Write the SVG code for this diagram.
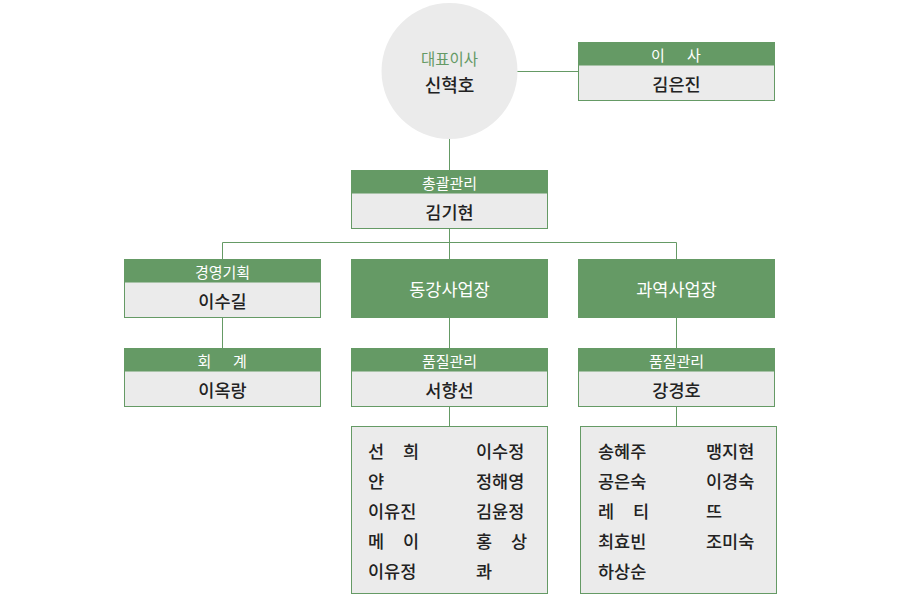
<svg xmlns="http://www.w3.org/2000/svg" width="900" height="609" viewBox="0 0 900 609">
<style>
text{font-family:"Noto Sans CJK KR","Noto Sans",sans-serif;dominant-baseline:central;}
.hd{fill:#659a65;}
.bx{fill:#ebebeb;stroke:#659a65;stroke-width:1;}
.ht{fill:#ffffff;font-size:15px;text-anchor:middle;}
.nt{fill:#222222;font-size:17.5px;font-weight:500;text-anchor:middle;}
.lt{fill:#222222;font-size:17.5px;font-weight:500;}
.ln{stroke:#659a65;stroke-width:1;fill:none;}
</style>
<rect width="900" height="609" fill="#ffffff"/>
<g id="connectors">
<path class="ln" d="M517 71.5H578.5"/>
<path class="ln" d="M449.5 139V170.5"/>
<path class="ln" d="M449.5 228.5V259.5"/>
<path class="ln" d="M222.5 259.5V242.5H676.5V259.5"/>
<path class="ln" d="M222.5 317.5V348.5"/>
<path class="ln" d="M449.5 317.5V348.5"/>
<path class="ln" d="M676.5 317.5V348.5"/>
<path class="ln" d="M449.5 406.5V426.5"/>
<path class="ln" d="M676.5 406.5V426.5"/>
</g>
<g id="ceo">
<circle cx="449.5" cy="71" r="68" fill="#ebebeb"/>
<text x="449.5" y="58" style="fill:#659a65;font-size:15.5px;text-anchor:middle;">대표이사</text>
<text x="449.5" y="84" class="nt" style="font-size:18px;">신혁호</text>
</g>
<g id="director">
<rect class="bx" x="578.5" y="42.5" width="196" height="58"/>
<rect class="hd" x="578.5" y="42.5" width="196" height="23"/>
<rect x="578.5" y="42.5" width="196" height="58" fill="none" stroke="#659a65"/>
<text class="ht" y="54"><tspan x="658">이</tspan><tspan x="694">사</tspan></text>
<text class="nt" x="676.5" y="83">김은진</text>
</g>
<g id="general">
<rect class="bx" x="351.5" y="170.5" width="196" height="58"/>
<rect class="hd" x="351.5" y="170.5" width="196" height="23"/>
<rect x="351.5" y="170.5" width="196" height="58" fill="none" stroke="#659a65"/>
<text class="ht" x="449.5" y="182">총괄관리</text>
<text class="nt" x="449.5" y="211">김기현</text>
</g>
<g id="planning">
<rect class="bx" x="124.5" y="259.5" width="196" height="58"/>
<rect class="hd" x="124.5" y="259.5" width="196" height="23"/>
<rect x="124.5" y="259.5" width="196" height="58" fill="none" stroke="#659a65"/>
<text class="ht" x="222.5" y="271">경영기획</text>
<text class="nt" x="222.5" y="300">이수길</text>
</g>
<g id="donggang">
<rect x="351" y="259" width="197" height="59" fill="#659a65"/>
<text class="nt" x="449.5" y="288.5" style="fill:#ffffff;font-weight:400;">동강사업장</text>
</g>
<g id="gwayeok">
<rect x="578" y="259" width="197" height="59" fill="#659a65"/>
<text class="nt" x="676.5" y="288.5" style="fill:#ffffff;font-weight:400;">과역사업장</text>
</g>
<g id="accounting">
<rect class="bx" x="124.5" y="348.5" width="196" height="58"/>
<rect class="hd" x="124.5" y="348.5" width="196" height="23"/>
<rect x="124.5" y="348.5" width="196" height="58" fill="none" stroke="#659a65"/>
<text class="ht" y="360"><tspan x="204.5">회</tspan><tspan x="240">계</tspan></text>
<text class="nt" x="222.5" y="389">이옥랑</text>
</g>
<g id="qc-donggang">
<rect class="bx" x="351.5" y="348.5" width="196" height="58"/>
<rect class="hd" x="351.5" y="348.5" width="196" height="23"/>
<rect x="351.5" y="348.5" width="196" height="58" fill="none" stroke="#659a65"/>
<text class="ht" x="449.5" y="360">품질관리</text>
<text class="nt" x="449.5" y="389">서향선</text>
</g>
<g id="qc-gwayeok">
<rect class="bx" x="578.5" y="348.5" width="196" height="58"/>
<rect class="hd" x="578.5" y="348.5" width="196" height="23"/>
<rect x="578.5" y="348.5" width="196" height="58" fill="none" stroke="#659a65"/>
<text class="ht" x="676.5" y="360">품질관리</text>
<text class="nt" x="676.5" y="389">강경호</text>
</g>
<g id="staff-donggang">
<rect class="bx" x="351.5" y="426.5" width="196" height="167"/>
<text class="lt" y="450"><tspan x="368">선</tspan><tspan x="403">희</tspan></text>
<text class="lt" x="368" y="480">얀</text>
<text class="lt" x="368" y="510">이유진</text>
<text class="lt" y="540"><tspan x="368">메</tspan><tspan x="403">이</tspan></text>
<text class="lt" x="368" y="570">이유정</text>
<text class="lt" x="476" y="450">이수정</text>
<text class="lt" x="476" y="480">정해영</text>
<text class="lt" x="476" y="510">김윤정</text>
<text class="lt" y="540"><tspan x="476">홍</tspan><tspan x="511">상</tspan></text>
<text class="lt" x="476" y="570">콰</text>
</g>
<g id="staff-gwayeok">
<rect class="bx" x="580.5" y="426.5" width="196" height="167"/>
<text class="lt" x="598" y="450">송혜주</text>
<text class="lt" x="598" y="480">공은숙</text>
<text class="lt" y="510"><tspan x="598">레</tspan><tspan x="633">티</tspan></text>
<text class="lt" x="598" y="540">최효빈</text>
<text class="lt" x="598" y="570">하상순</text>
<text class="lt" x="706" y="450">맹지현</text>
<text class="lt" x="706" y="480">이경숙</text>
<text class="lt" x="706" y="510">뜨</text>
<text class="lt" x="706" y="540">조미숙</text>
</g>
</svg>
